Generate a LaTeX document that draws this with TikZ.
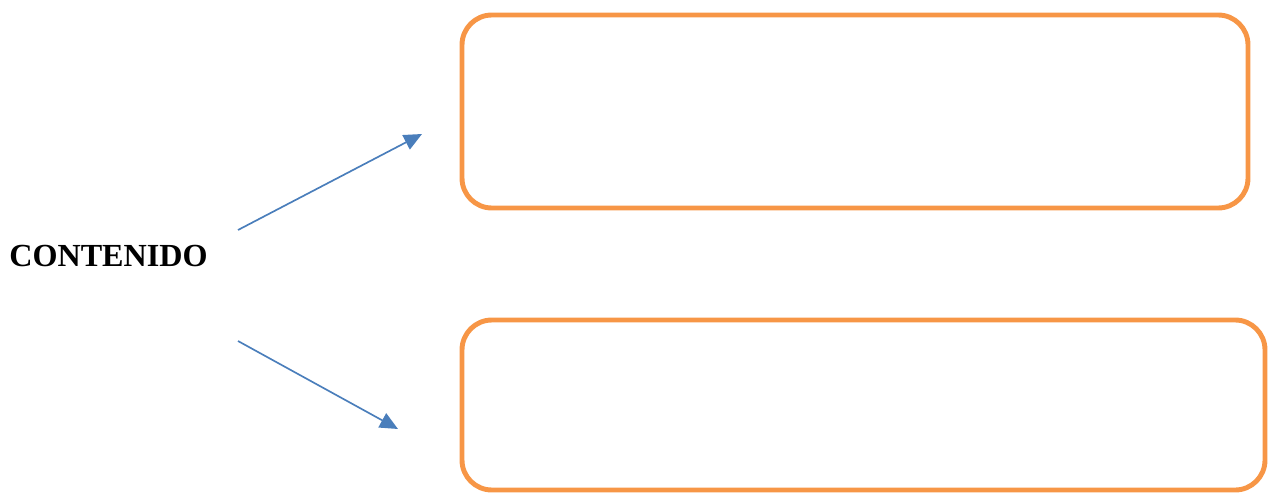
\documentclass[tikz,border=0pt]{standalone}
\usepackage{fontspec}
\setmainfont{Liberation Serif}
\usepackage{xcolor}
\usetikzlibrary{arrows.meta, positioning}

\definecolor{boxorange}{HTML}{F79646}
\definecolor{arrowblue}{HTML}{4A7EBB}

\begin{document}
\begin{tikzpicture}[
  every node/.style={font=\fontsize{18.3}{21}\selectfont},
  contentbox/.style={draw=boxorange, line width=2.8pt, rounded corners=17pt},
  arrow/.style={-{Triangle[length=3.6mm, width=3.2mm]}, arrowblue, line width=0.95pt},
]
\useasboundingbox (0,0) rectangle (25.4,9.86);

% ---- Title (left) ----
\node[font=\fontsize{18.3}{21}\selectfont\bfseries] (title) at (2.17,4.74) {CONTENIDO};

% ---- Boxes (right) ----
\node[contentbox, minimum width=15.72cm, minimum height=3.86cm] (upper) at (17.10,7.63) {};
\node[contentbox, minimum width=16.06cm, minimum height=3.40cm] (lower) at (17.27,1.76) {};

% arrow ends
\coordinate (up_start) at (4.76,5.26);
\coordinate (up_end) at (8.44,7.18);
\coordinate (low_start) at (4.76,3.04);
\coordinate (low_end) at (7.96,1.28);

\draw[arrow] (up_start) -- (up_end);
\draw[arrow] (low_start) -- (low_end);

\end{tikzpicture}
\end{document}
